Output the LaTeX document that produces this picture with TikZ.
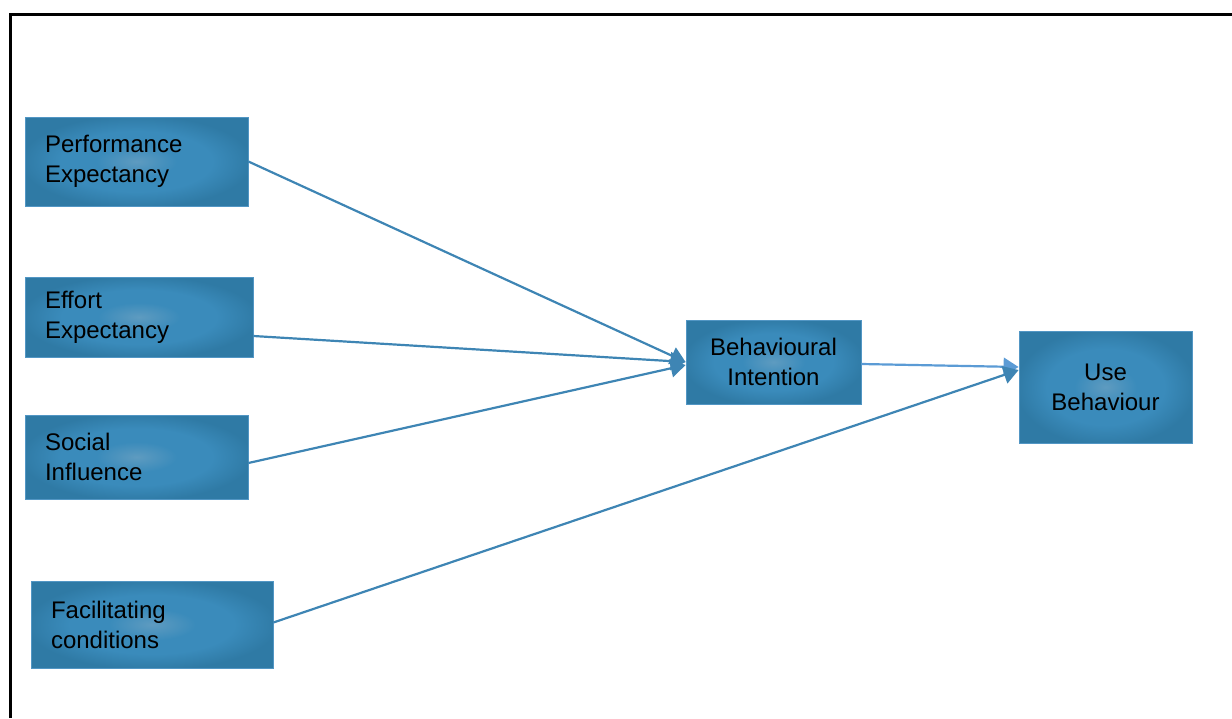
\documentclass[tikz,border=0pt]{standalone}
\usepackage{fontspec}
\setmainfont{Liberation Sans}
\usetikzlibrary{positioning, calc, arrows.meta}
\definecolor{boxdark}{RGB}{47,122,165}
\definecolor{boxmid}{RGB}{58,139,187}
\definecolor{boxlight}{RGB}{94,155,192}
\definecolor{boxrim}{RGB}{82,150,196}
\definecolor{linkblue}{RGB}{62,133,180}
\definecolor{linklight}{RGB}{91,155,213}
\pgfdeclareradialshading{boxglow}{\pgfpoint{0bp}{0bp}}{%
  color(0bp)=(boxlight); color(9bp)=(boxmid); color(17bp)=(boxmid); color(26bp)=(boxdark); color(50bp)=(boxdark)}
\tikzset{
  factorbox/.style={draw=boxrim, thin, shading=boxglow,
    align=left, inner xsep=10pt, text width=#1, font=\fontsize{12}{15}\selectfont},
  outcomebox/.style={draw=boxrim, thin, shading=boxglow,
    align=center, font=\fontsize{12}{15}\selectfont},
  pathedge/.style={draw=linkblue, line width=1.1pt, -{Triangle[length=7.5pt,width=9pt]}},
  pathedgelight/.style={pathedge, draw=linklight, fill=linklight}
}

\begin{document}
\begin{tikzpicture}[x=0.5pt, y=-0.5pt]
  \useasboundingbox (0,0) rectangle (1232,718);
  % frame
  \draw[line width=1.5pt] (10,718) -- (10,14) -- (1232,14);

  % predictors
  \node[factorbox=91.5pt, minimum height=44.5pt] (pe) at (136.5,161.5) {Performance\\Expectancy};
  \node[factorbox=94pt, minimum height=40pt] (ee) at (139,317) {Effort\\Expectancy};
  \node[factorbox=91.5pt, minimum height=42pt] (si) at (136.5,457) {Social\\Influence};
  \node[factorbox=101pt, minimum height=43.5pt] (fc) at (152,624.5) {Facilitating\\conditions};

  % intention and use
  \node[outcomebox, minimum width=87.5pt, minimum height=42pt] (bi) at (773.5,362) {Behavioural\\Intention};
  \node[outcomebox, minimum width=86.5pt, minimum height=56pt] (ub) at (1105.5,387) {Use\\Behaviour};

  \draw[pathedge, fill=linkblue] (pe.east) -- (bi.west);
  \draw[pathedge, fill=linkblue] ($(ee.east)+(0,19)$) -- (bi.west);
  \draw[pathedge, fill=linkblue] ($(si.east)+(0,6)$) -- ($(bi.west)+(0,3)$);
  \draw[pathedgelight] ($(bi.east)+(0,2)$) -- ($(ub.west)+(0,-20)$);
  \draw[pathedge, fill=linkblue] ($(fc.east)+(0,-2)$) -- ($(ub.west)+(0,-17)$);
\end{tikzpicture}
\end{document}
